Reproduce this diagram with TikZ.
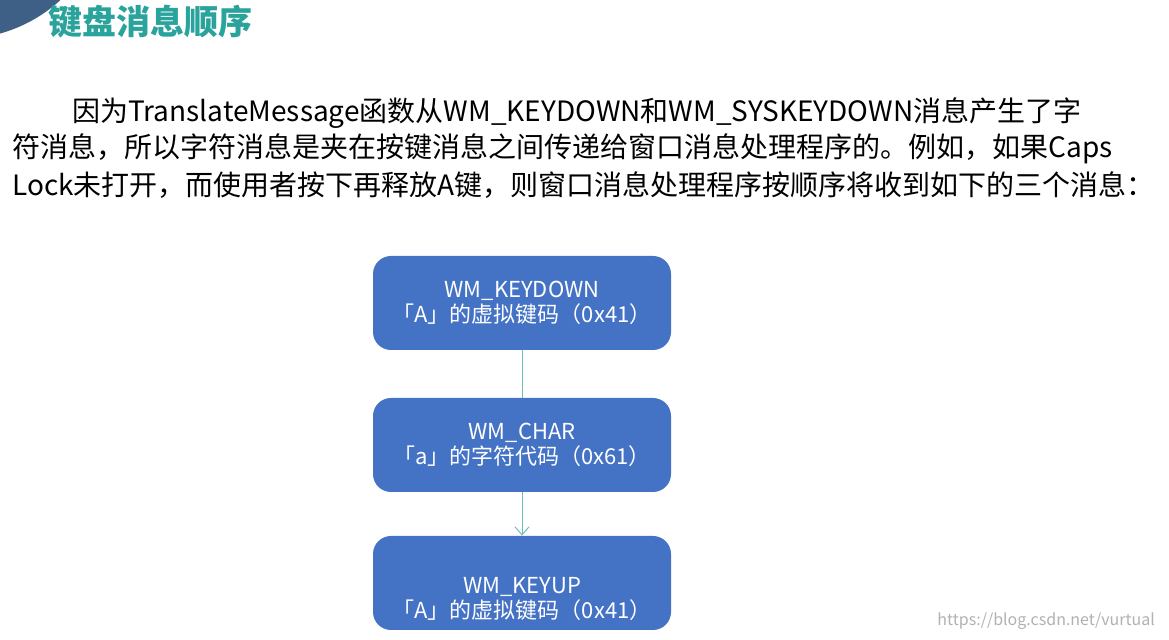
\documentclass[tikz,border=0pt]{standalone}
\usepackage{fontspec}
\setmainfont{Noto Sans CJK SC}
\usetikzlibrary{positioning,arrows.meta}
\definecolor{msgblue}{HTML}{4472C4}
\definecolor{titleteal}{HTML}{2AA39C}
\definecolor{linkteal}{HTML}{6BBFB5}
\definecolor{cornerblue}{HTML}{3E5F86}
\tikzset{
  msgbox/.style={fill=msgblue, rounded corners=9pt, minimum width=149pt, minimum height=47pt,
    text=white, align=center, font=\fontsize{11}{12.5}\selectfont},
  bodyline/.style={anchor=west, inner sep=0pt, font=\fontsize{14}{16}\selectfont},
  link/.style={draw=linkteal, line width=0.5pt}
}
\begin{document}
\begin{tikzpicture}[x=0.5pt,y=-0.5pt]
\useasboundingbox (0,0) rectangle (1169,640);
\fill[white] (0,0) rectangle (1169,640);
\fill[cornerblue] (-40,-110) circle (149);

\node[anchor=west, inner sep=0pt, text=titleteal, font=\fontsize{17}{19}\selectfont\bfseries] (title) at (48,22) {键盘消息顺序};

% paragraph
\node[bodyline] (line1) at (72,113) {因为TranslateMessage函数从WM\_KEYDOWN和WM\_SYSKEYDOWN消息产生了字};
\node[bodyline] (line2) at (12,149) {符消息，所以字符消息是夹在按键消息之间传递给窗口消息处理程序的。例如，如果Caps};
\node[bodyline] (line3) at (12,185) {Lock未打开，而使用者按下再释放A键，则窗口消息处理程序按顺序将收到如下的三个消息：};

% messages
\node[msgbox] (keydown) at (522,303) {WM\_KEYDOWN\\「A」的虚拟键码（0x41）};
\node[msgbox] (char) at (522,445) {WM\_CHAR\\「a」的字符代码（0x61）};
\node[msgbox] (keyup) at (522,583) {\rule{0pt}{24pt}WM\_KEYUP\\「A」的虚拟键码（0x41）};

\draw[link] (keydown) -- (char);
\draw[link, -{Straight Barb[length=4pt,width=7pt]}] (char) -- (keyup);

\node[anchor=east, text=gray!60, font=\fontsize{8}{10}\selectfont] (mark) at (1162,621) {https://blog.csdn.net/vurtual};
\end{tikzpicture}
\end{document}
